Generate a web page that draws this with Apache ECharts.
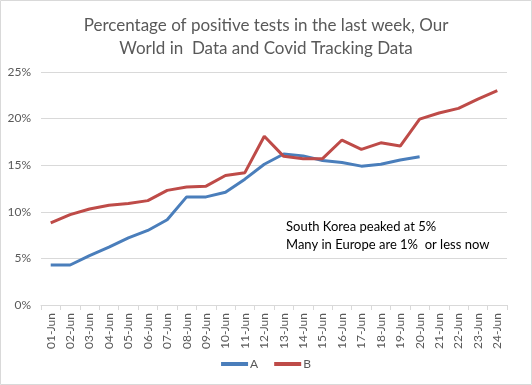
<!DOCTYPE html>
<html><head><meta charset="utf-8">
<script src="https://cdn.jsdelivr.net/npm/echarts@6/dist/echarts.min.js"></script>
<style>html,body{margin:0;padding:0;background:#fff}#c{width:532px;height:385px}</style>
</head><body><div id="c"></div>
<script>
const categories = ["01-Jun","02-Jun","03-Jun","04-Jun","05-Jun","06-Jun","07-Jun","08-Jun","09-Jun","10-Jun","11-Jun","12-Jun","13-Jun","14-Jun","15-Jun","16-Jun","17-Jun","18-Jun","19-Jun","20-Jun","21-Jun","22-Jun","23-Jun","24-Jun"];
const seriesA = [0.0429,0.0429,0.053,0.062,0.072,0.080,0.0915,0.116,0.116,0.121,0.135,0.151,0.162,0.160,0.155,0.153,0.149,0.151,0.1555,0.159,null,null,null,null];
const seriesB = [0.088,0.097,0.103,0.107,0.109,0.112,0.123,0.1265,0.1275,0.139,0.142,0.181,0.1595,0.157,0.157,0.177,0.167,0.174,0.1705,0.1995,0.206,0.211,0.221,0.230];
const yTicks = [0,0.05,0.10,0.15,0.20,0.25];
const titleText = "Percentage of positive tests in the last week, Our\nWorld in  Data and Covid Tracking Data";
const noteText = "South Korea peaked at 5%\nMany in Europe are 1%  or less now";

const font = "Lato, 'Open Sans', sans-serif";
const chart = echarts.init(document.getElementById('c'));
chart.setOption({
  animation: false,
  textStyle: {fontFamily: font},
  title: {
    text: titleText, left: 'center', top: 9,
    textStyle: {fontFamily: font, fontSize: 17, fontWeight: 'normal', color: '#595959', lineHeight: 23}
  },
  legend: {
    bottom: 10, left: 'center', itemWidth: 27, itemHeight: 4, itemGap: 16,
    icon: 'rect',
    textStyle: {fontFamily: font, fontSize: 12, color: '#595959', padding: [0,0,0,-3]},
    data: ['A','B']
  },
  grid: {left: 41, right: 25, top: 72, bottom: 80},
  xAxis: {
    type: 'category', data: categories, boundaryGap: true,
    axisLine: {lineStyle: {color: '#d9d9d9', width: 1}},
    axisTick: {show: true, length: 5, lineStyle: {color: '#d9d9d9'}},
    axisLabel: {rotate: 90, interval: 0, fontFamily: font, fontSize: 12, color: '#595959', margin: 8}
  },
  yAxis: {
    type: 'value', min: yTicks[0], max: yTicks[yTicks.length-1], interval: 0.05,
    axisLine: {show: false}, axisTick: {show: false},
    splitLine: {lineStyle: {color: '#d9d9d9', width: 1}},
    axisLabel: {fontFamily: font, fontSize: 12, color: '#595959', margin: 10,
      formatter: v => Math.round(v*100) + '%'}
  },
  series: [
    {name: 'A', type: 'line', data: seriesA, showSymbol: false, symbol: 'none',
     lineStyle: {color: '#4a7ebb', width: 3}, itemStyle: {color: '#4a7ebb'}},
    {name: 'B', type: 'line', data: seriesB, showSymbol: false, symbol: 'none',
     lineStyle: {color: '#be4b48', width: 3}, itemStyle: {color: '#be4b48'}}
  ],
  graphic: [
    {type: 'rect', shape: {x: 0.5, y: 0.5, width: 531, height: 384},
     style: {fill: 'none', stroke: '#d9d9d9', lineWidth: 1}, silent: true},
    {type: 'text', left: 286, top: 218,
     style: {text: noteText, fontFamily: font, fontSize: 13, fill: '#000', lineHeight: 18}}
  ]
});
</script></body></html>
